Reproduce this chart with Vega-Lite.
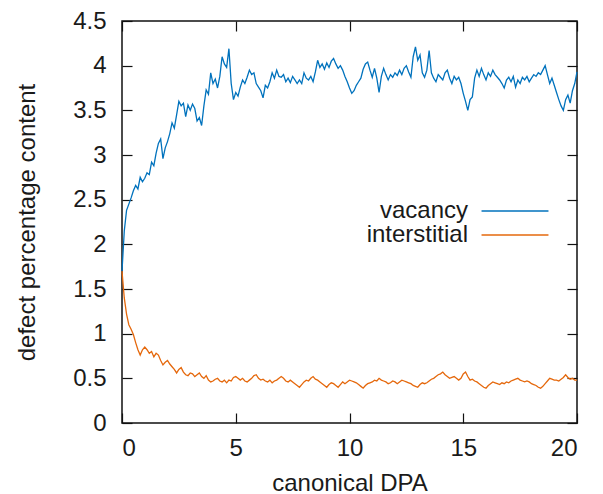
{
  "$schema": "https://vega.github.io/schema/vega-lite/v6.json",
  "width": 455,
  "height": 402,
  "autosize": "none",
  "padding": {"left": 122, "top": 21, "right": 26, "bottom": 71},
  "background": "white",
  "config": {
    "view": {"stroke": "#111", "strokeWidth": 1.5},
    "font": "Liberation Sans",
    "axis": {"grid": false, "domain": false, "tickColor": "#111", "tickSize": -10, "tickWidth": 1.2, "labelFontSize": 24, "titleFontSize": 24, "labelColor": "#1a1a1a", "titleColor": "#1a1a1a", "titleFontWeight": "normal"}
  },
  "data": {"values": [
{"x":0.0,"vacancy":1.70,"interstitial":1.70},{"x":0.1,"vacancy":2.15,"interstitial":1.40},{"x":0.2,"vacancy":2.38,"interstitial":1.22},{"x":0.3,"vacancy":2.45,"interstitial":1.10},{"x":0.4,"vacancy":2.52,"interstitial":1.05},{"x":0.5,"vacancy":2.60,"interstitial":0.99},{"x":0.6,"vacancy":2.66,"interstitial":0.90},{"x":0.7,"vacancy":2.62,"interstitial":0.82},{"x":0.8,"vacancy":2.75,"interstitial":0.76},{"x":0.9,"vacancy":2.70,"interstitial":0.82},
{"x":1.0,"vacancy":2.74,"interstitial":0.85},{"x":1.1,"vacancy":2.80,"interstitial":0.82},{"x":1.2,"vacancy":2.78,"interstitial":0.78},{"x":1.3,"vacancy":2.92,"interstitial":0.80},{"x":1.4,"vacancy":2.88,"interstitial":0.74},{"x":1.5,"vacancy":3.02,"interstitial":0.78},{"x":1.6,"vacancy":3.13,"interstitial":0.76},{"x":1.7,"vacancy":3.18,"interstitial":0.70},{"x":1.8,"vacancy":2.96,"interstitial":0.65},{"x":1.9,"vacancy":3.08,"interstitial":0.68},
{"x":2.0,"vacancy":3.15,"interstitial":0.70},{"x":2.1,"vacancy":3.24,"interstitial":0.66},{"x":2.2,"vacancy":3.36,"interstitial":0.63},{"x":2.3,"vacancy":3.30,"interstitial":0.60},{"x":2.4,"vacancy":3.45,"interstitial":0.56},{"x":2.5,"vacancy":3.60,"interstitial":0.60},{"x":2.6,"vacancy":3.55,"interstitial":0.62},{"x":2.7,"vacancy":3.58,"interstitial":0.57},{"x":2.8,"vacancy":3.43,"interstitial":0.54},{"x":2.9,"vacancy":3.56,"interstitial":0.53},
{"x":3.0,"vacancy":3.50,"interstitial":0.56},{"x":3.1,"vacancy":3.57,"interstitial":0.55},{"x":3.2,"vacancy":3.52,"interstitial":0.52},{"x":3.3,"vacancy":3.38,"interstitial":0.54},{"x":3.4,"vacancy":3.42,"interstitial":0.56},{"x":3.5,"vacancy":3.33,"interstitial":0.52},{"x":3.6,"vacancy":3.55,"interstitial":0.50},{"x":3.7,"vacancy":3.73,"interstitial":0.53},{"x":3.8,"vacancy":3.68,"interstitial":0.48},{"x":3.9,"vacancy":3.92,"interstitial":0.46},
{"x":4.0,"vacancy":3.80,"interstitial":0.47},{"x":4.1,"vacancy":3.85,"interstitial":0.49},{"x":4.2,"vacancy":3.75,"interstitial":0.50},{"x":4.3,"vacancy":3.88,"interstitial":0.47},{"x":4.4,"vacancy":4.10,"interstitial":0.46},{"x":4.5,"vacancy":4.02,"interstitial":0.48},{"x":4.6,"vacancy":3.98,"interstitial":0.45},{"x":4.7,"vacancy":4.19,"interstitial":0.48},{"x":4.8,"vacancy":3.80,"interstitial":0.47},{"x":4.9,"vacancy":3.62,"interstitial":0.51},
{"x":5.0,"vacancy":3.70,"interstitial":0.52},{"x":5.1,"vacancy":3.66,"interstitial":0.50},{"x":5.2,"vacancy":3.76,"interstitial":0.48},{"x":5.3,"vacancy":3.84,"interstitial":0.50},{"x":5.4,"vacancy":3.80,"interstitial":0.47},{"x":5.5,"vacancy":3.87,"interstitial":0.46},{"x":5.6,"vacancy":3.95,"interstitial":0.48},{"x":5.7,"vacancy":3.90,"interstitial":0.50},{"x":5.8,"vacancy":3.92,"interstitial":0.53},{"x":5.9,"vacancy":3.80,"interstitial":0.54},
{"x":6.0,"vacancy":3.76,"interstitial":0.50},{"x":6.1,"vacancy":3.72,"interstitial":0.48},{"x":6.2,"vacancy":3.64,"interstitial":0.49},{"x":6.3,"vacancy":3.78,"interstitial":0.47},{"x":6.4,"vacancy":3.75,"interstitial":0.46},{"x":6.5,"vacancy":3.82,"interstitial":0.48},{"x":6.6,"vacancy":3.92,"interstitial":0.45},{"x":6.7,"vacancy":3.86,"interstitial":0.47},{"x":6.8,"vacancy":3.95,"interstitial":0.48},{"x":6.9,"vacancy":3.88,"interstitial":0.50},
{"x":7.0,"vacancy":3.87,"interstitial":0.52},{"x":7.1,"vacancy":3.90,"interstitial":0.50},{"x":7.2,"vacancy":3.82,"interstitial":0.47},{"x":7.3,"vacancy":3.86,"interstitial":0.46},{"x":7.4,"vacancy":3.81,"interstitial":0.48},{"x":7.5,"vacancy":3.88,"interstitial":0.46},{"x":7.6,"vacancy":3.84,"interstitial":0.44},{"x":7.7,"vacancy":3.80,"interstitial":0.42},{"x":7.8,"vacancy":3.84,"interstitial":0.40},{"x":7.9,"vacancy":3.80,"interstitial":0.43},
{"x":8.0,"vacancy":3.92,"interstitial":0.46},{"x":8.1,"vacancy":3.86,"interstitial":0.48},{"x":8.2,"vacancy":3.84,"interstitial":0.47},{"x":8.3,"vacancy":3.88,"interstitial":0.50},{"x":8.4,"vacancy":3.82,"interstitial":0.52},{"x":8.5,"vacancy":3.93,"interstitial":0.49},{"x":8.6,"vacancy":4.06,"interstitial":0.48},{"x":8.7,"vacancy":3.98,"interstitial":0.46},{"x":8.8,"vacancy":4.02,"interstitial":0.44},{"x":8.9,"vacancy":3.96,"interstitial":0.42},
{"x":9.0,"vacancy":4.03,"interstitial":0.40},{"x":9.1,"vacancy":3.98,"interstitial":0.43},{"x":9.2,"vacancy":4.05,"interstitial":0.45},{"x":9.3,"vacancy":4.08,"interstitial":0.44},{"x":9.4,"vacancy":4.02,"interstitial":0.42},{"x":9.5,"vacancy":3.97,"interstitial":0.40},{"x":9.6,"vacancy":4.00,"interstitial":0.43},{"x":9.7,"vacancy":3.95,"interstitial":0.46},{"x":9.8,"vacancy":3.88,"interstitial":0.44},{"x":9.9,"vacancy":3.82,"interstitial":0.46},
{"x":10.0,"vacancy":3.75,"interstitial":0.48},{"x":10.1,"vacancy":3.69,"interstitial":0.47},{"x":10.2,"vacancy":3.72,"interstitial":0.46},{"x":10.3,"vacancy":3.78,"interstitial":0.45},{"x":10.4,"vacancy":3.82,"interstitial":0.43},{"x":10.5,"vacancy":3.86,"interstitial":0.41},{"x":10.6,"vacancy":3.96,"interstitial":0.39},{"x":10.7,"vacancy":4.02,"interstitial":0.42},{"x":10.8,"vacancy":4.04,"interstitial":0.44},{"x":10.9,"vacancy":3.95,"interstitial":0.45},
{"x":11.0,"vacancy":3.87,"interstitial":0.46},{"x":11.1,"vacancy":3.97,"interstitial":0.48},{"x":11.2,"vacancy":3.86,"interstitial":0.47},{"x":11.3,"vacancy":3.70,"interstitial":0.50},{"x":11.4,"vacancy":3.88,"interstitial":0.48},{"x":11.5,"vacancy":3.97,"interstitial":0.47},{"x":11.6,"vacancy":3.90,"interstitial":0.46},{"x":11.7,"vacancy":3.84,"interstitial":0.44},{"x":11.8,"vacancy":3.90,"interstitial":0.45},{"x":11.9,"vacancy":3.87,"interstitial":0.47},
{"x":12.0,"vacancy":3.92,"interstitial":0.46},{"x":12.1,"vacancy":3.89,"interstitial":0.44},{"x":12.2,"vacancy":3.95,"interstitial":0.46},{"x":12.3,"vacancy":3.90,"interstitial":0.48},{"x":12.4,"vacancy":3.97,"interstitial":0.47},{"x":12.5,"vacancy":4.00,"interstitial":0.46},{"x":12.6,"vacancy":3.93,"interstitial":0.45},{"x":12.7,"vacancy":3.87,"interstitial":0.44},{"x":12.8,"vacancy":4.10,"interstitial":0.42},{"x":12.9,"vacancy":4.21,"interstitial":0.41},
{"x":13.0,"vacancy":4.06,"interstitial":0.40},{"x":13.1,"vacancy":4.12,"interstitial":0.43},{"x":13.2,"vacancy":3.92,"interstitial":0.45},{"x":13.3,"vacancy":3.87,"interstitial":0.44},{"x":13.4,"vacancy":3.95,"interstitial":0.45},{"x":13.5,"vacancy":4.17,"interstitial":0.47},{"x":13.6,"vacancy":3.92,"interstitial":0.49},{"x":13.7,"vacancy":3.86,"interstitial":0.50},{"x":13.8,"vacancy":3.82,"interstitial":0.52},{"x":13.9,"vacancy":3.90,"interstitial":0.54},
{"x":14.0,"vacancy":3.87,"interstitial":0.55},{"x":14.1,"vacancy":3.84,"interstitial":0.57},{"x":14.2,"vacancy":3.92,"interstitial":0.54},{"x":14.3,"vacancy":3.95,"interstitial":0.52},{"x":14.4,"vacancy":3.86,"interstitial":0.50},{"x":14.5,"vacancy":3.80,"interstitial":0.51},{"x":14.6,"vacancy":3.88,"interstitial":0.52},{"x":14.7,"vacancy":3.84,"interstitial":0.50},{"x":14.8,"vacancy":3.87,"interstitial":0.48},{"x":14.9,"vacancy":3.80,"interstitial":0.50},
{"x":15.0,"vacancy":3.69,"interstitial":0.55},{"x":15.1,"vacancy":3.60,"interstitial":0.57},{"x":15.2,"vacancy":3.50,"interstitial":0.52},{"x":15.3,"vacancy":3.62,"interstitial":0.48},{"x":15.4,"vacancy":3.65,"interstitial":0.49},{"x":15.5,"vacancy":3.86,"interstitial":0.47},{"x":15.6,"vacancy":3.95,"interstitial":0.46},{"x":15.7,"vacancy":3.88,"interstitial":0.44},{"x":15.8,"vacancy":3.97,"interstitial":0.42},{"x":15.9,"vacancy":3.90,"interstitial":0.40},
{"x":16.0,"vacancy":3.84,"interstitial":0.39},{"x":16.1,"vacancy":3.92,"interstitial":0.42},{"x":16.2,"vacancy":3.88,"interstitial":0.44},{"x":16.3,"vacancy":3.95,"interstitial":0.46},{"x":16.4,"vacancy":3.90,"interstitial":0.45},{"x":16.5,"vacancy":3.87,"interstitial":0.44},{"x":16.6,"vacancy":3.84,"interstitial":0.43},{"x":16.7,"vacancy":3.80,"interstitial":0.45},{"x":16.8,"vacancy":3.75,"interstitial":0.44},{"x":16.9,"vacancy":3.84,"interstitial":0.46},
{"x":17.0,"vacancy":3.87,"interstitial":0.45},{"x":17.1,"vacancy":3.82,"interstitial":0.47},{"x":17.2,"vacancy":3.88,"interstitial":0.48},{"x":17.3,"vacancy":3.76,"interstitial":0.49},{"x":17.4,"vacancy":3.84,"interstitial":0.50},{"x":17.5,"vacancy":3.80,"interstitial":0.48},{"x":17.6,"vacancy":3.87,"interstitial":0.47},{"x":17.7,"vacancy":3.84,"interstitial":0.46},{"x":17.8,"vacancy":3.88,"interstitial":0.47},{"x":17.9,"vacancy":3.82,"interstitial":0.46},
{"x":18.0,"vacancy":3.86,"interstitial":0.44},{"x":18.1,"vacancy":3.90,"interstitial":0.43},{"x":18.2,"vacancy":3.88,"interstitial":0.42},{"x":18.3,"vacancy":3.92,"interstitial":0.40},{"x":18.4,"vacancy":3.90,"interstitial":0.39},{"x":18.5,"vacancy":3.95,"interstitial":0.41},{"x":18.6,"vacancy":4.00,"interstitial":0.44},{"x":18.7,"vacancy":3.90,"interstitial":0.47},{"x":18.8,"vacancy":3.80,"interstitial":0.50},{"x":18.9,"vacancy":3.86,"interstitial":0.49},
{"x":19.0,"vacancy":3.78,"interstitial":0.48},{"x":19.1,"vacancy":3.70,"interstitial":0.48},{"x":19.2,"vacancy":3.62,"interstitial":0.47},{"x":19.3,"vacancy":3.55,"interstitial":0.49},{"x":19.4,"vacancy":3.50,"interstitial":0.51},{"x":19.5,"vacancy":3.62,"interstitial":0.54},{"x":19.6,"vacancy":3.67,"interstitial":0.51},{"x":19.7,"vacancy":3.58,"interstitial":0.49},{"x":19.8,"vacancy":3.72,"interstitial":0.50},{"x":19.9,"vacancy":3.80,"interstitial":0.48},
{"x":20.0,"vacancy":3.93,"interstitial":0.48}
  ]},
  "transform": [{"fold": ["vacancy", "interstitial"], "as": ["series", "value"]}],
  "layer": [
    {
      "mark": {"type": "line", "strokeWidth": 1.3},
      "encoding": {
        "x": {"field": "x", "type": "quantitative", "scale": {"domain": [0, 20], "nice": false}, "axis": {"values": [0, 5, 10, 15, 20], "title": "canonical DPA", "labelPadding": 23, "titlePadding": 11}},
        "y": {"field": "value", "type": "quantitative", "scale": {"domain": [0, 4.5], "nice": false}, "axis": {"values": [0, 0.5, 1, 1.5, 2, 2.5, 3, 3.5, 4, 4.5], "format": "~g", "title": "defect percentage content", "labelPadding": 26, "titlePadding": 33}},
        "color": {"field": "series", "type": "nominal", "scale": {"domain": ["vacancy", "interstitial"], "range": ["#0072bd", "#e5680c"]},
          "legend": {"title": null, "orient": "none", "legendX": 381, "legendY": 178, "symbolType": "M-4,0H4", "symbolSize": 280, "symbolStrokeWidth": 1.3, "symbolFillColor": "transparent", "labelFontSize": 24, "labelColor": "#1a1a1a", "labelAlign": "right", "labelOffset": -59, "rowPadding": 0, "padding": 0}}
      }
    },
    {
      "mark": {"type": "line", "opacity": 0},
      "encoding": {
        "x": {"field": "x", "type": "quantitative", "axis": {"orient": "top", "values": [0, 5, 10, 15, 20], "labels": false, "title": null}},
        "y": {"field": "value", "type": "quantitative", "axis": {"orient": "right", "values": [0, 0.5, 1, 1.5, 2, 2.5, 3, 3.5, 4, 4.5], "labels": false, "title": null}},
        "detail": {"field": "series"}
      }
    }
  ],
  "resolve": {"axis": {"x": "independent", "y": "independent"}}
}
